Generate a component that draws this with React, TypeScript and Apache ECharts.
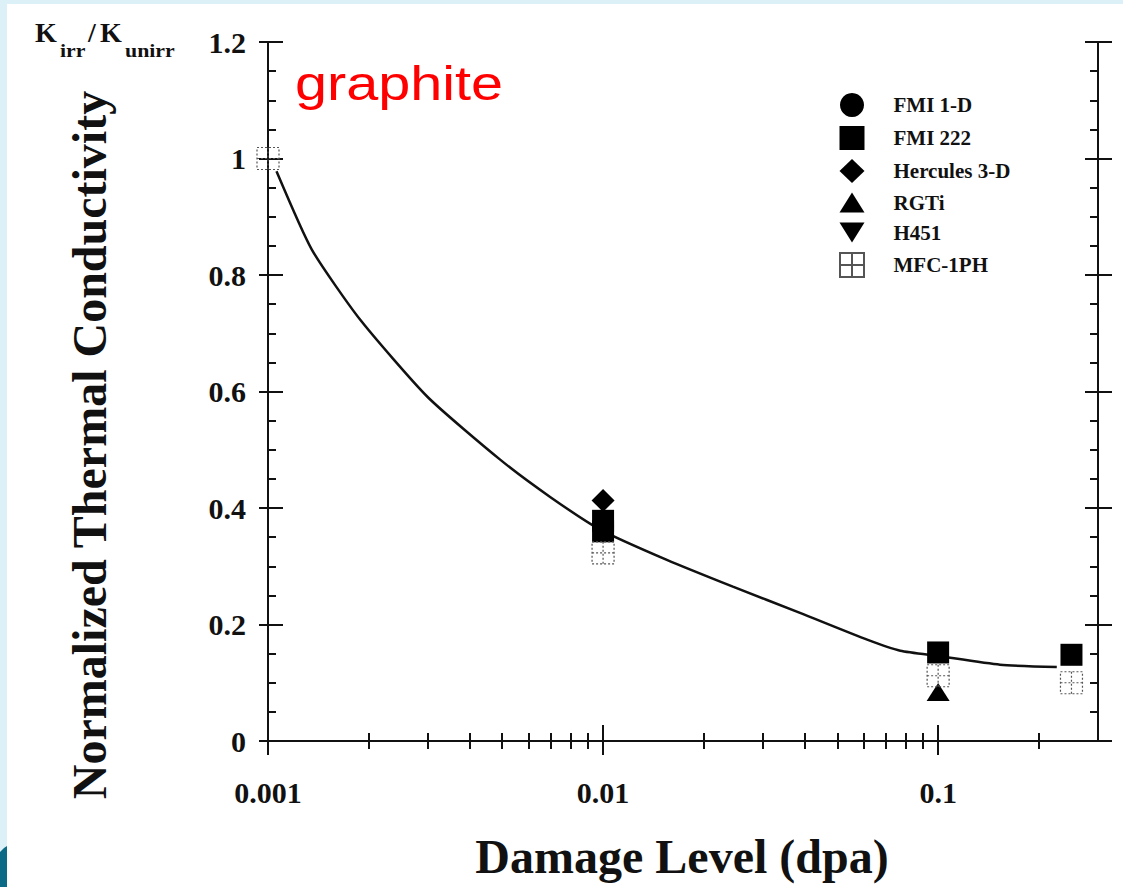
import React, { useEffect, useRef } from "react";
import * as echarts from "echarts";

// ---- data ----
const xTickLabels = [0.001, 0.01, 0.1];
const xMinorTicks = [
  0.002, 0.003, 0.004, 0.005, 0.006, 0.007, 0.008, 0.009,
  0.02, 0.03, 0.04, 0.05, 0.06, 0.07, 0.08, 0.09,
  0.2,
];
const yMin = 0;
const yMax = 1.2;
const yInterval = 0.2;

const curveX = [0.00106, 0.00135, 0.00188, 0.00299, 0.00493, 0.00695, 0.0098, 0.0155, 0.0244, 0.0387, 0.0614, 0.0771, 0.1, 0.153, 0.226];
const curveY = [0.978, 0.844, 0.724, 0.591, 0.483, 0.419, 0.363, 0.311, 0.265, 0.22, 0.174, 0.155, 0.146, 0.131, 0.127];

const fmi1dX = [0.01];
const fmi1dY = [0.369];
const fmi222X = [0.01, 0.01, 0.1, 0.25];
const fmi222Y = [0.378, 0.36, 0.152, 0.148];
const herculesX = [0.01];
const herculesY = [0.413];
const rgtiX = [0.1];
const rgtiY = [0.084];
const h451X: number[] = [];
const h451Y: number[] = [];
const mfcX = [0.001, 0.01, 0.1, 0.25];
const mfcY = [1.0, 0.323, 0.112, 0.1];

const seriesNames = ["FMI 1-D", "FMI 222", "Hercules 3-D", "RGTi", "H451", "MFC-1PH"];

const zip = (xs: number[], ys: number[]) => xs.map((x, i) => [x, ys[i]]);

const SERIF = '"Liberation Serif", "Times New Roman", serif';
const INK = "#111";
const MFC_PATH = "path://M0,0H10V10H0ZM5,0V10M0,5H10";
const DOWN_TRI = "path://M0,0L10,0L5,8Z";
const UP_TRI = "path://M5,0L10,8L0,8Z";

export default function App() {
  const ref = useRef<HTMLDivElement>(null);
  useEffect(() => {
    if (!ref.current) return;
    const chart = echarts.init(ref.current, undefined, { renderer: "svg" });
    const fmt = (v: number) => String(+Number(v).toPrecision(6));
    const yBase = {
      type: "value" as const,
      min: yMin,
      max: yMax,
      interval: yInterval,
      splitLine: { show: false },
    };
    const xBase = {
      type: "log" as const,
      logBase: 10,
      min: 0.001,
      max: 0.3,
      splitLine: { show: false },
    };
    const axisLine = { show: true, lineStyle: { color: INK, width: 2 } };
    const noLine = { show: false };
    const tickStyle = { color: INK, width: 2 };
    const blackItem = { color: "#000", opacity: 1 };

    chart.setOption({
      animation: false,
      backgroundColor: "#ffffff",
      grid: { left: 268, right: 25, top: 42, bottom: 146 },
      xAxis: [
        {
          ...xBase,
          position: "bottom",
          axisLine,
          axisTick: { show: true, inside: true, length: 16, lineStyle: tickStyle, customValues: xTickLabels },
          axisLabel: {
            show: true,
            customValues: xTickLabels,
            margin: 36,
            formatter: fmt,
            fontFamily: SERIF,
            fontWeight: "bold",
            fontSize: 30,
            color: INK,
          },
        },
        {
          ...xBase,
          position: "bottom",
          axisLine: noLine,
          axisTick: { show: true, inside: true, length: 8, lineStyle: tickStyle, customValues: xMinorTicks },
          axisLabel: { show: false },
        },
        {
          ...xBase,
          position: "bottom",
          axisLine: noLine,
          axisTick: { show: true, inside: false, length: 14, lineStyle: tickStyle, customValues: xTickLabels },
          axisLabel: { show: false },
        },
        {
          ...xBase,
          position: "top",
          axisLine,
          axisTick: { show: true, inside: true, length: 8, lineStyle: tickStyle, customValues: xMinorTicks },
          axisLabel: { show: false },
        },
      ],
      yAxis: [
        {
          ...yBase,
          position: "left",
          axisLine,
          axisTick: { show: true, inside: true, length: 15, lineStyle: tickStyle },
          minorTick: { show: true, splitNumber: 4, length: 8, lineStyle: tickStyle },
          axisLabel: {
            show: true,
            margin: 22,
            formatter: fmt,
            fontFamily: SERIF,
            fontWeight: "bold",
            fontSize: 30,
            color: INK,
          },
        },
        {
          ...yBase,
          position: "left",
          axisLine: noLine,
          axisTick: { show: true, inside: false, length: 9, lineStyle: tickStyle },
          axisLabel: { show: false },
        },
        {
          ...yBase,
          position: "right",
          axisLine,
          axisTick: { show: true, inside: true, length: 13, lineStyle: tickStyle },
          minorTick: { show: true, splitNumber: 4, length: 8, lineStyle: tickStyle },
          axisLabel: { show: false },
        },
        {
          ...yBase,
          position: "right",
          axisLine: noLine,
          axisTick: { show: true, inside: false, length: 14, lineStyle: tickStyle },
          axisLabel: { show: false },
        },
      ],
      legend: {
        data: seriesNames,
        orient: "vertical",
        left: 834,
        top: 88,
        itemWidth: 25,
        itemHeight: 24,
        itemGap: 9,
        selectedMode: false,
        textStyle: {
          fontFamily: SERIF,
          fontWeight: "bold",
          fontSize: 21,
          color: INK,
          padding: [0, 0, 0, 24],
        },
      },
      series: [
        {
          type: "line",
          name: "curve",
          data: zip(curveX, curveY),
          smooth: 0.2,
          showSymbol: false,
          symbol: "none",
          lineStyle: { color: INK, width: 2.5 },
          z: 2,
        },
        {
          type: "scatter",
          name: "FMI 1-D",
          data: zip(fmi1dX, fmi1dY),
          symbol: "circle",
          symbolSize: 22,
          itemStyle: blackItem,
          z: 3,
        },
        {
          type: "scatter",
          name: "FMI 222",
          data: zip(fmi222X, fmi222Y),
          symbol: "rect",
          symbolSize: 22,
          itemStyle: blackItem,
          z: 3,
        },
        {
          type: "scatter",
          name: "Hercules 3-D",
          data: zip(herculesX, herculesY),
          symbol: "diamond",
          symbolSize: 23,
          itemStyle: blackItem,
          z: 3,
        },
        {
          type: "scatter",
          name: "RGTi",
          data: zip(rgtiX, rgtiY),
          symbol: UP_TRI,
          symbolSize: [23, 18],
          itemStyle: blackItem,
          z: 3,
        },
        {
          type: "scatter",
          name: "H451",
          data: zip(h451X, h451Y),
          symbol: DOWN_TRI,
          symbolSize: [23, 18],
          itemStyle: blackItem,
          z: 3,
        },
        {
          type: "scatter",
          name: "MFC-1PH",
          data: zip(mfcX, mfcY),
          symbol: MFC_PATH,
          symbolSize: 22,
          itemStyle: {
            color: "rgba(0,0,0,0)",
            borderColor: "#555",
            borderWidth: 1.2,
            borderType: [2, 2],
            opacity: 1,
          },
          z: 3,
        },
      ],
      graphic: [
        { type: "rect", silent: true, shape: { x: 0, y: 0, width: 1123, height: 4 }, style: { fill: "#dbf1f7" } },
        { type: "rect", silent: true, shape: { x: 0, y: 0, width: 7, height: 887 }, style: { fill: "#dbf1f7" } },
        {
          type: "polygon",
          silent: true,
          shape: { points: [[0, 852], [4, 848], [7, 846], [7, 887], [0, 887]] },
          style: { fill: "#0b6a86" },
        },
        {
          type: "text",
          x: 35,
          y: 32,
          style: { text: "K", font: `bold 28px ${SERIF}`, fill: INK, align: "left", verticalAlign: "middle", textAlign: "left", textVerticalAlign: "middle" },
        },
        {
          type: "text",
          x: 60,
          y: 51,
          scaleX: 1.15,
          style: { text: "irr", font: `bold 19px ${SERIF}`, fill: INK, align: "left", verticalAlign: "middle", textAlign: "left", textVerticalAlign: "middle" },
        },
        {
          type: "text",
          x: 88,
          y: 32,
          style: { text: "/", font: `bold 28px ${SERIF}`, fill: INK, align: "left", verticalAlign: "middle", textAlign: "left", textVerticalAlign: "middle" },
        },
        {
          type: "text",
          x: 100,
          y: 32,
          style: { text: "K", font: `bold 28px ${SERIF}`, fill: INK, align: "left", verticalAlign: "middle", textAlign: "left", textVerticalAlign: "middle" },
        },
        {
          type: "text",
          x: 125,
          y: 51,
          scaleX: 1.15,
          style: { text: "unirr", font: `bold 19px ${SERIF}`, fill: INK, align: "left", verticalAlign: "middle", textAlign: "left", textVerticalAlign: "middle" },
        },
        {
          type: "text",
          x: 89,
          y: 445,
          rotation: Math.PI / 2,
          style: {
            text: "Normalized Thermal Conductivity",
            font: `bold 48px ${SERIF}`,
            fill: INK,
            align: "center",
            verticalAlign: "middle",
            textAlign: "center",
            textVerticalAlign: "middle",
          },
        },
        {
          type: "text",
          x: 682,
          y: 856,
          style: {
            text: "Damage Level (dpa)",
            font: `bold 48px ${SERIF}`,
            fill: INK,
            align: "center",
            verticalAlign: "middle",
            textAlign: "center",
            textVerticalAlign: "middle",
          },
        },
        {
          type: "text",
          x: 295,
          y: 83,
          scaleX: 1.2,
          style: {
            text: "graphite",
            font: `48px "Liberation Sans", Arial, sans-serif`,
            fill: "#ff0000",
            align: "left",
            verticalAlign: "middle",
            textAlign: "left",
            textVerticalAlign: "middle",
          },
        },
      ],
    });
    return () => chart.dispose();
  }, []);
  return (
    <div
      ref={ref}
      style={{ position: "fixed", left: 0, top: 0, width: 1123, height: 887, background: "#fff" }}
    />
  );
}
